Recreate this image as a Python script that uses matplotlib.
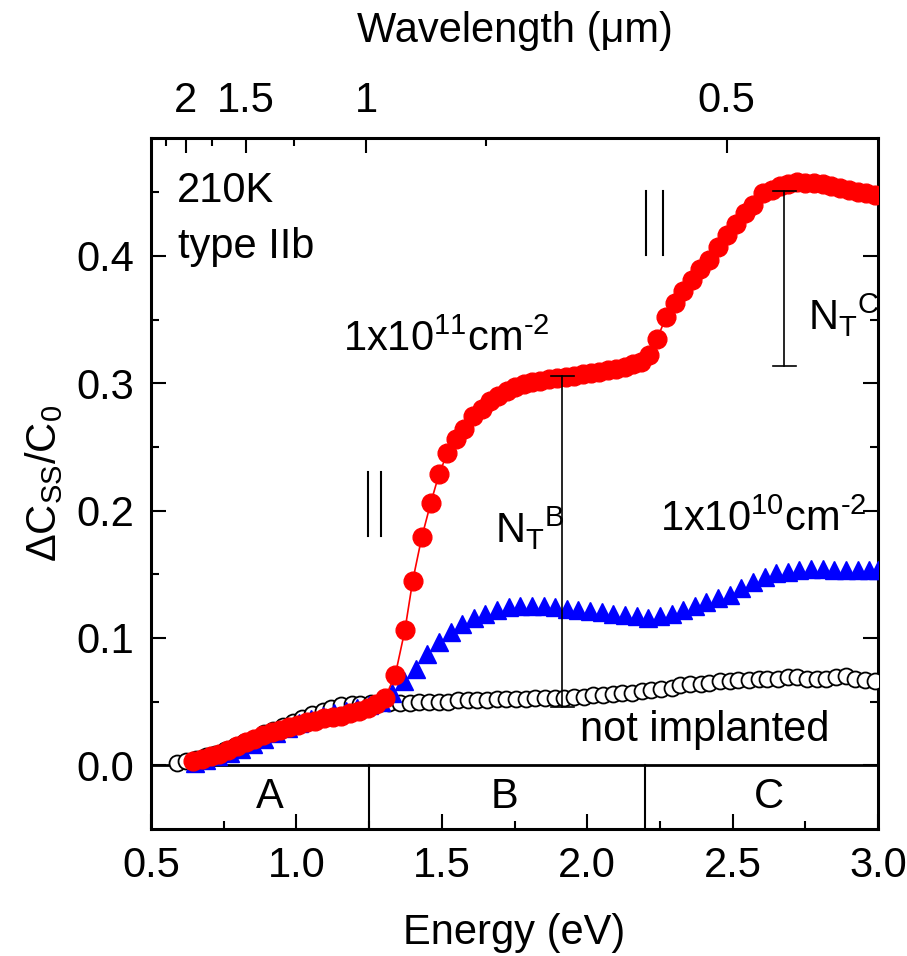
import matplotlib
matplotlib.use("Agg")
import matplotlib.pyplot as plt
from matplotlib.ticker import FixedLocator, FixedFormatter

plt.rcParams['font.family'] = ['Liberation Sans', 'DejaVu Sans']
plt.rcParams['mathtext.fontset'] = 'custom'
plt.rcParams['mathtext.rm'] = 'Liberation Sans'
plt.rcParams['mathtext.it'] = 'Liberation Sans'
plt.rcParams['mathtext.default'] = 'regular'

# ---- data: 1x10^11 cm^-2 (red circles) ----
red_e = [0.645, 0.675, 0.705, 0.735, 0.765, 0.795, 0.825, 0.855, 0.885, 0.915,
         0.945, 0.975, 1.005, 1.035, 1.065, 1.095, 1.125, 1.155, 1.185, 1.215,
         1.245, 1.275, 1.305, 1.340, 1.373, 1.400, 1.431, 1.462, 1.491, 1.519,
         1.548, 1.577, 1.608, 1.637, 1.665, 1.694, 1.723, 1.752, 1.781, 1.810,
         1.839, 1.868, 1.897, 1.926, 1.955, 1.984, 2.013, 2.042, 2.071, 2.100,
         2.129, 2.158, 2.185, 2.212, 2.241, 2.271, 2.302, 2.330, 2.359, 2.388,
         2.420, 2.451, 2.480, 2.512, 2.543, 2.571, 2.606, 2.635, 2.663, 2.690,
         2.720, 2.750, 2.780, 2.810, 2.840, 2.870, 2.900, 2.930, 2.960, 2.990]
red_v = [0.003, 0.005, 0.007, 0.009, 0.012, 0.015, 0.018, 0.021, 0.024, 0.026,
         0.028, 0.030, 0.032, 0.034, 0.035, 0.037, 0.038, 0.039, 0.041, 0.043,
         0.045, 0.048, 0.053, 0.071, 0.106, 0.145, 0.179, 0.206, 0.229, 0.245,
         0.256, 0.264, 0.274, 0.280, 0.286, 0.290, 0.294, 0.297, 0.299, 0.301,
         0.302, 0.303, 0.304, 0.305, 0.306, 0.307, 0.308, 0.309, 0.310, 0.311,
         0.313, 0.315, 0.317, 0.322, 0.335, 0.352, 0.363, 0.3725, 0.381, 0.3895,
         0.397, 0.407, 0.4165, 0.425, 0.4335, 0.440, 0.449, 0.452, 0.455, 0.456,
         0.458, 0.457, 0.457, 0.456, 0.455, 0.453, 0.452, 0.450, 0.449, 0.448]

# ---- data: 1x10^10 cm^-2 (blue triangles) ----
blue_e = [0.65, 0.69, 0.73, 0.77, 0.81, 0.85, 0.89, 0.93, 0.97, 1.01,
          1.05, 1.09, 1.13, 1.17, 1.21, 1.25, 1.29, 1.33, 1.37, 1.41,
          1.45, 1.49, 1.53, 1.57, 1.61, 1.65, 1.69, 1.73, 1.77, 1.81,
          1.85, 1.89, 1.93, 1.97, 2.01, 2.05, 2.09, 2.13, 2.17, 2.21,
          2.25, 2.29, 2.33, 2.37, 2.41, 2.45, 2.49, 2.53, 2.57, 2.61,
          2.65, 2.69, 2.73, 2.77, 2.81, 2.85, 2.89, 2.93, 2.97, 3.00]
blue_v = [0.002, 0.004, 0.007, 0.010, 0.013, 0.017, 0.021, 0.025, 0.029, 0.033,
          0.036, 0.039, 0.041, 0.043, 0.045, 0.047, 0.050, 0.057, 0.066, 0.076,
          0.087, 0.097, 0.105, 0.111, 0.116, 0.119, 0.122, 0.124, 0.125, 0.125,
          0.125, 0.124, 0.123, 0.122, 0.121, 0.120, 0.119, 0.118, 0.117, 0.116,
          0.117, 0.119, 0.122, 0.125, 0.128, 0.131, 0.134, 0.139, 0.144, 0.148,
          0.151, 0.152, 0.153, 0.154, 0.154, 0.153, 0.153, 0.153, 0.153, 0.153]

# ---- data: not implanted (open circles) ----
black_e = [0.590, 0.620, 0.655, 0.690, 0.720, 0.755, 0.790, 0.820, 0.855, 0.890,
           0.920, 0.955, 0.990, 1.020, 1.055, 1.090, 1.120, 1.155, 1.190, 1.220,
           1.255, 1.290, 1.320, 1.355, 1.390, 1.420, 1.455, 1.490, 1.520, 1.555,
           1.590, 1.620, 1.655, 1.690, 1.720, 1.755, 1.790, 1.820, 1.855, 1.890,
           1.920, 1.955, 1.990, 2.020, 2.055, 2.090, 2.120, 2.155, 2.190, 2.220,
           2.255, 2.290, 2.320, 2.355, 2.390, 2.420, 2.455, 2.490, 2.520, 2.555,
           2.590, 2.620, 2.655, 2.690, 2.720, 2.755, 2.790, 2.820, 2.855, 2.890,
           2.920, 2.955, 2.990]
black_v = [0.002, 0.003, 0.005, 0.007, 0.009, 0.012, 0.015, 0.018, 0.021, 0.025,
           0.028, 0.031, 0.034, 0.037, 0.040, 0.043, 0.045, 0.047, 0.048, 0.048,
           0.049, 0.049, 0.049, 0.049, 0.049, 0.050, 0.050, 0.050, 0.050, 0.051,
           0.051, 0.051, 0.051, 0.052, 0.052, 0.052, 0.052, 0.053, 0.053, 0.053,
           0.053, 0.054, 0.054, 0.055, 0.055, 0.056, 0.057, 0.057, 0.058, 0.059,
           0.060, 0.061, 0.063, 0.064, 0.064, 0.065, 0.066, 0.066, 0.067, 0.067,
           0.068, 0.068, 0.068, 0.069, 0.069, 0.068, 0.068, 0.068, 0.069, 0.070,
           0.068, 0.067, 0.066]

# region boundaries and labels
region_bounds = [1.25, 2.2]
region_labels = ['A', 'B', 'C']
region_label_x = [0.91, 1.717, 2.626]

# N_T bars (energy, bottom, top)
ntb = (1.915, 0.046, 0.306)
ntc = (2.678, 0.3137, 0.451)

# wavelength ticks
wl_major = [2, 1.5, 1, 0.5]
wl_major_labels = ['2', '1.5', '1', '0.5']
wl_minor = [2.25, 1.75, 1.25, 0.75]

fig = plt.figure(figsize=(9.07, 9.56), dpi=100)
ax = fig.add_axes([151/907, 1-829/956, 727/907, 691/956])

FS = 30

ax.plot(black_e, black_v, 'o', ms=11.5, mfc='white', mec='black', mew=1.3, zorder=3)
ax.plot(blue_e, blue_v, '^', ms=13, color='#0000ff', mec='#0000ff', zorder=4)
ax.plot(red_e, red_v, '-o', ms=13.5, color='#ff0000', mec='#ff0000', lw=1.2, zorder=5)

ax.set_xlim(0.5, 3.0)
ax.set_ylim(-0.05, 0.4925)

ax.axhline(0, color='black', lw=2.0, zorder=2)
for b in region_bounds:
    ax.plot([b, b], [-0.05, 0], color='black', lw=1.5, zorder=2)
for lab, xl in zip(region_labels, region_label_x):
    ax.text(xl, -0.0335, lab, ha='center', va='baseline', fontsize=FS)

# N_T bars
for (xe, lo, hi) in (ntb, ntc):
    ax.plot([xe, xe], [lo, hi], color='black', lw=1.2, zorder=6)
    ax.plot([xe - 0.04, xe + 0.04], [lo, lo], color='black', lw=1.2, zorder=6)
    ax.plot([xe - 0.04, xe + 0.04], [hi, hi], color='black', lw=1.2, zorder=6)

# "||" marks
for (x1, x2, y1, y2) in ((1.246, 1.290, 0.18, 0.23), (2.202, 2.259, 0.4008, 0.4505)):
    ax.plot([x1, x1], [y1, y2], color='black', lw=1.5)
    ax.plot([x2, x2], [y1, y2], color='black', lw=1.5)

ax.text(0.588, 0.4426, '210K', fontsize=FS, va='baseline', ha='left')
ax.text(0.593, 0.398, 'type IIb', fontsize=FS, va='baseline', ha='left')
ax.text(1.161, 0.325, r'1x10$^{11}$cm$^{\text{-}2}$', fontsize=FS, va='baseline', ha='left')
ax.text(2.25, 0.1837, r'1x10$^{10}$cm$^{\text{-}2}$', fontsize=FS, va='baseline', ha='left')
ax.text(1.683, 0.1747, r'N$_T{}^B$', fontsize=FS, va='baseline', ha='left')
ax.text(2.76, 0.342, r'N$_T{}^C$', fontsize=FS, va='baseline', ha='left')
ax.text(1.975, 0.019, 'not implanted', fontsize=FS, va='baseline', ha='left')

ax.xaxis.set_major_locator(FixedLocator([0.5, 1.0, 1.5, 2.0, 2.5, 3.0]))
ax.xaxis.set_minor_locator(FixedLocator([0.75, 1.25, 1.75, 2.25, 2.75]))
ax.yaxis.set_major_locator(FixedLocator([0.0, 0.1, 0.2, 0.3, 0.4]))
ax.yaxis.set_minor_locator(FixedLocator([0.05, 0.15, 0.25, 0.35, 0.45]))
ax.xaxis.set_major_formatter(FixedFormatter(['0.5', '1.0', '1.5', '2.0', '2.5', '3.0']))
ax.yaxis.set_major_formatter(FixedFormatter(['0.0', '0.1', '0.2', '0.3', '0.4']))
ax.tick_params(which='both', direction='in', labelsize=FS, width=1.5,
               bottom=True, top=False, left=True, right=True, pad=12)
ax.tick_params(which='major', length=11)
ax.tick_params(which='minor', length=6)
for s in ax.spines.values():
    s.set_linewidth(2.2)

ax.set_xlabel('Energy (eV)', fontsize=FS, labelpad=20)
ax.set_ylabel(r'$\Delta$C$_{SS}$/C$_0$', fontsize=FS, labelpad=8)

sec = ax.secondary_xaxis('top', functions=(lambda e: 1.2398 / e, lambda l: 1.2398 / l))
sec.set_xticks(wl_major)
sec.set_xticklabels(wl_major_labels)
sec.xaxis.set_minor_locator(FixedLocator(wl_minor))
sec.tick_params(which='both', direction='in', labelsize=FS, width=1.5, pad=12)
sec.tick_params(which='major', length=11)
sec.tick_params(which='minor', length=6)
sec.set_xlabel('Wavelength (μm)', fontsize=FS, labelpad=28)

fig.savefig('out.png', dpi=100)
